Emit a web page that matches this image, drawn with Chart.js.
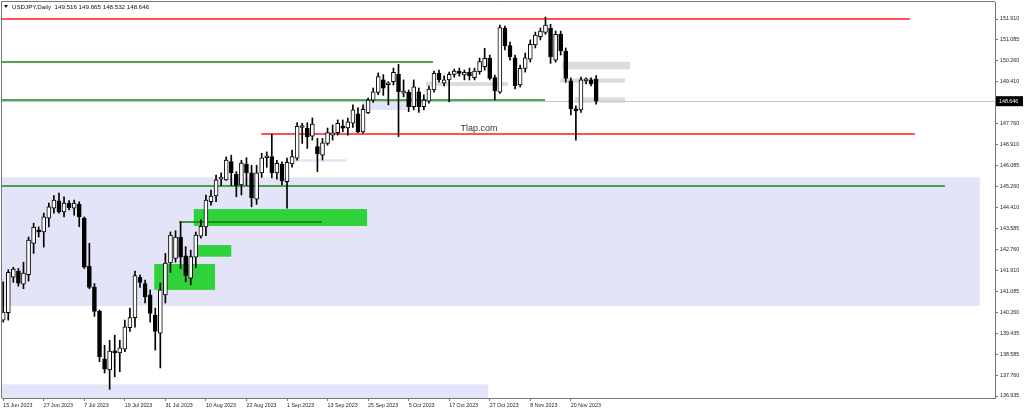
<!DOCTYPE html>
<html>
<head>
<meta charset="utf-8">
<script src="https://cdn.jsdelivr.net/npm/chart.js"></script>
<style>
html, body { margin: 0; padding: 0; background: #fff; }
canvas { display: block; }
</style>
</head>
<body>
<canvas id="chart" width="1024" height="412"></canvas>
<script>
// USDJPY daily, 15 Jun 2023 .. 27 Nov 2023 (bar index 0..117)
const title = 'USDJPY,Daily  149.516 149.665 148.532 148.646';
const lastPrice = 148.646;

const opens = [
  139.95, 140.25, 141.66, 141.90, 141.38, 141.75, 143.00, 143.50, 143.45, 144.00,
  144.40, 144.69, 144.25, 144.60, 144.40, 144.55, 144.00, 142.10, 141.25, 140.30,
  138.40, 137.97, 138.72, 138.65, 138.80, 139.65, 140.05, 141.65, 141.40, 140.95,
  140.15, 139.43, 140.95, 142.22, 142.40, 143.25, 142.50, 141.62, 142.45, 143.28,
  143.65, 144.65, 144.88, 145.55, 145.52, 146.25, 145.75, 145.32, 146.15, 145.80,
  144.75, 145.80, 146.40, 146.45, 145.80, 146.15, 145.45, 146.15, 146.38, 147.60,
  147.57, 147.26, 146.84, 146.50, 146.97, 147.30, 147.40, 147.66, 147.58, 147.77,
  148.14, 147.43, 148.19, 148.69, 148.99, 149.49, 149.30, 149.42, 149.71, 148.96,
  149.00, 148.43, 149.02, 148.43, 148.65, 149.09, 149.75, 149.36, 149.49, 149.71,
  149.82, 149.69, 149.79, 149.58, 149.82, 150.02, 150.35, 149.58, 149.00, 151.54,
  150.85, 150.37, 149.29, 149.95, 150.32, 150.88, 151.21, 151.38, 151.55, 150.28,
  151.30, 150.64, 149.45, 148.34, 148.30, 149.45, 149.49, 149.516
];
const highs = [
  141.47, 141.95, 142.05, 142.00, 142.25, 143.25, 143.80, 143.65, 144.20, 144.60,
  144.90, 145.00, 144.85, 144.70, 144.72, 144.65, 144.05, 143.00, 141.40, 140.35,
  138.95, 139.15, 139.35, 139.15, 139.95, 140.43, 141.90, 141.75, 141.54, 141.15,
  140.43, 141.42, 142.60, 143.45, 143.50, 143.85, 142.87, 142.73, 143.45, 143.93,
  144.92, 145.12, 145.71, 145.80, 146.43, 146.50, 145.85, 146.30, 146.40, 146.10,
  146.10, 146.58, 146.63, 147.33, 146.30, 146.24, 146.39, 146.70, 147.80, 147.77,
  147.79, 147.98, 147.17, 147.17, 147.58, 147.70, 147.90, 147.90, 147.98, 148.50,
  148.38, 148.50, 148.77, 149.17, 149.77, 149.70, 149.42, 149.96, 150.11, 149.49,
  149.09, 149.49, 149.17, 148.90, 149.25, 149.84, 149.88, 149.65, 149.80, 149.92,
  149.96, 149.88, 149.96, 149.96, 150.36, 150.75, 150.48, 149.68, 151.67, 151.63,
  150.99, 150.48, 150.08, 150.56, 151.08, 151.39, 151.55, 151.99, 151.70, 151.43,
  151.43, 150.76, 149.57, 148.46, 149.60, 149.57, 149.57, 149.665
];
const lows = [
  139.87, 139.95, 141.45, 141.30, 141.20, 141.50, 142.60, 143.25, 142.85, 143.65,
  144.20, 144.20, 144.05, 144.33, 144.12, 143.66, 142.00, 141.20, 140.10, 138.30,
  137.85, 137.20, 137.70, 137.90, 138.70, 139.50, 139.67, 141.25, 140.63, 139.87,
  138.76, 138.05, 140.63, 141.85, 142.25, 142.00, 141.47, 141.35, 142.03, 143.20,
  143.30, 144.52, 144.65, 145.30, 145.50, 145.30, 144.85, 144.92, 145.30, 144.45,
  144.55, 145.62, 146.02, 145.60, 145.55, 145.32, 144.40, 146.03, 146.30, 146.97,
  146.77, 147.10, 145.85, 146.31, 146.90, 147.10, 147.30, 147.43, 147.30, 147.60,
  147.40, 147.38, 148.15, 148.60, 148.90, 148.88, 148.50, 149.29, 147.24, 148.82,
  148.23, 148.30, 148.20, 148.30, 148.57, 149.00, 149.40, 149.25, 148.62, 149.60,
  149.64, 149.49, 149.49, 149.49, 149.72, 149.88, 149.49, 148.70, 148.95, 150.68,
  150.28, 149.13, 149.21, 149.80, 150.20, 150.76, 151.08, 151.30, 150.15, 150.20,
  150.48, 149.40, 148.10, 147.10, 148.20, 149.33, 149.25, 148.532
];
const closes = [
  140.27, 141.85, 141.98, 141.42, 141.82, 143.13, 143.65, 143.45, 144.05, 144.45,
  144.72, 144.25, 144.60, 144.42, 144.60, 144.05, 142.05, 141.25, 140.30, 138.50,
  138.00, 138.72, 138.65, 138.85, 139.68, 140.05, 141.72, 141.45, 140.87, 140.22,
  139.50, 141.15, 142.22, 143.33, 143.25, 142.45, 141.73, 142.47, 143.33, 143.68,
  144.72, 144.88, 145.52, 145.60, 146.31, 145.80, 145.30, 146.19, 145.80, 144.80,
  145.80, 146.40, 146.47, 145.80, 146.18, 145.48, 146.22, 146.45, 147.65, 147.65,
  147.23, 147.74, 146.55, 146.99, 147.40, 147.39, 147.77, 147.57, 147.83, 148.30,
  147.43, 148.32, 148.69, 149.02, 149.62, 149.16, 149.35, 149.79, 149.02, 149.05,
  148.43, 149.22, 148.43, 148.69, 149.13, 149.75, 149.49, 149.49, 149.71, 149.84,
  149.75, 149.79, 149.66, 149.84, 150.22, 150.35, 149.55, 149.05, 151.57, 150.85,
  150.41, 149.26, 149.95, 150.37, 150.90, 151.27, 151.43, 151.67, 150.40, 151.30,
  150.64, 149.55, 148.34, 148.26, 149.49, 149.53, 149.33, 148.646
];

// date axis: bar index of each label
const xTickIndex = [0, 8, 16, 24, 32, 40, 48, 56, 64, 72, 80, 88, 96, 104, 112];
const xTickLabels = ['15 Jun 2023', '27 Jun 2023', '7 Jul 2023', '19 Jul 2023', '31 Jul 2023',
  '10 Aug 2023', '22 Aug 2023', '1 Sep 2023', '13 Sep 2023', '25 Sep 2023', '5 Oct 2023',
  '17 Oct 2023', '27 Oct 2023', '8 Nov 2023', '20 Nov 2023'];
const yTicks = [151.910, 151.085, 150.260, 149.410, 147.760, 146.910, 146.085, 145.260,
  144.410, 143.585, 142.760, 141.910, 141.085, 140.260, 139.435, 138.585, 137.760, 136.935];

// drawn objects: [fromBar, toBar, upperPrice, lowerPrice]
const lavenderZones = [[-2, 192.7, 145.62, 140.51], [-2, 95.7, 137.40, 136.0],
  [70.8, 79.7, 148.69, 148.30], [57.2, 67.8, 146.34, 146.24]];
const grayZones = [[83.4, 99.6, 149.41, 149.25], [110.3, 123.7, 150.21, 149.91],
  [109.9, 122.7, 149.55, 149.38], [112.8, 122.7, 148.80, 148.59]];
const greenZones = [[37.6, 71.8, 144.36, 143.69], [38.1, 45.0, 142.93, 142.47],
  [29.8, 41.8, 142.18, 141.15]];
// levels: [fromBar, toBar, price]
const greenLevels = [[-2, 84.8, 150.20], [-2, 106.9, 148.69], [-2, 185.8, 145.28]];
const redLevels = [[-2, 178.9, 151.91], [50.9, 179.9, 147.34]];
const darkGreenLevels = [[34.7, 62.9, 143.85]];
const watermark = {bar: 93.9, price: 147.56, text: 'Tlap.com'};

const axisFont = {family: 'Liberation Sans', size: 5.3};

const objectsPlugin = {
  id: 'objects',
  beforeDatasetsDraw(chart) {
    const {ctx, chartArea: a, scales: {x, y}} = chart;
    ctx.save();
    ctx.beginPath();
    ctx.rect(a.left, a.top, a.right - a.left, a.bottom - a.top);
    ctx.clip();
    const zone = (list, color) => list.forEach(z => {
      const x1 = x.getPixelForValue(z[0]), x2 = x.getPixelForValue(z[1]);
      const y1 = y.getPixelForValue(z[2]), y2 = y.getPixelForValue(z[3]);
      ctx.fillStyle = color;
      ctx.fillRect(x1, y1, x2 - x1, y2 - y1);
    });
    zone(lavenderZones, '#e4e4f8');
    zone(grayZones, '#dcdcdc');
    zone(greenZones, '#2fd23a');

    // bid line
    ctx.strokeStyle = '#c8c8c8';
    ctx.lineWidth = 1;
    ctx.beginPath();
    const by = Math.round(y.getPixelForValue(lastPrice)) + 0.5;
    ctx.moveTo(a.left, by); ctx.lineTo(a.right, by);
    ctx.stroke();

    const level = (list, color, w) => list.forEach(l => {
      const py = y.getPixelForValue(l[2]);
      ctx.strokeStyle = color;
      ctx.lineWidth = w;
      ctx.beginPath();
      ctx.moveTo(x.getPixelForValue(l[0]), py);
      ctx.lineTo(x.getPixelForValue(l[1]), py);
      ctx.stroke();
    });
    level(greenLevels, '#138a13', 1.5);
    level(darkGreenLevels, '#137a13', 1.5);
    level(redLevels, '#ff1a1a', 1.5);

    ctx.fillStyle = '#333';
    ctx.font = '9px "Liberation Sans"';
    ctx.textAlign = 'center';
    ctx.textBaseline = 'middle';
    ctx.fillText(watermark.text, x.getPixelForValue(watermark.bar), y.getPixelForValue(watermark.price));
    ctx.restore();
  },
  afterDraw(chart) {
    const {ctx, chartArea: a, scales: {y}} = chart;
    ctx.save();
    // frame left and top
    ctx.strokeStyle = '#777';
    ctx.lineWidth = 1;
    ctx.beginPath();
    ctx.moveTo(a.left - 0.5, a.bottom); ctx.lineTo(a.left - 0.5, a.top - 0.5); ctx.lineTo(a.right, a.top - 0.5);
    ctx.stroke();

    // header
    ctx.fillStyle = '#111';
    ctx.beginPath();
    ctx.moveTo(4, 5); ctx.lineTo(8, 5); ctx.lineTo(6, 8); ctx.closePath();
    ctx.fill();
    ctx.font = '6.2px "Liberation Sans"';
    ctx.textBaseline = 'middle';
    ctx.textAlign = 'left';
    ctx.fillText(title, 12, 7);

    // current price tag
    const py = y.getPixelForValue(lastPrice);
    ctx.fillStyle = '#000';
    ctx.fillRect(a.right + 1, py - 5, 27, 10);
    ctx.fillStyle = '#fff';
    ctx.font = '5.3px "Liberation Sans"';
    ctx.fillText(lastPrice.toFixed(3), a.right + 4, py + 0.5);
    ctx.restore();
  }
};

const bodies = {
  data: opens.map((o, i) => ({x: i, y: [o, closes[i]]})),
  backgroundColor: c => closes[c.dataIndex] >= opens[c.dataIndex] ? '#ffffff' : '#000000',
  borderColor: '#000',
  borderWidth: 1,
  borderSkipped: false,
  barThickness: 4,
  minBarLength: 2,
  grouped: false,
  order: 1
};
const wicks = {
  data: highs.map((h, i) => ({x: i, y: [lows[i], h]})),
  backgroundColor: '#000',
  borderWidth: 0,
  barThickness: 1,
  grouped: false,
  order: 2
};

new Chart(document.getElementById('chart'), {
  type: 'bar',
  data: {datasets: [bodies, wicks]},
  options: {
    responsive: false,
    animation: false,
    devicePixelRatio: 1,
    layout: {padding: {left: 2, top: 2, right: 0, bottom: 0}},
    plugins: {legend: {display: false}, tooltip: {enabled: false}},
    scales: {
      x: {
        type: 'linear',
        min: -0.24,
        max: 195.7,
        offset: false,
        grid: {drawOnChartArea: false, offset: false, tickLength: 3, color: '#777'},
        border: {color: '#777'},
        ticks: {
          autoSkip: false, maxRotation: 0, align: 'start', padding: 1,
          color: '#222', font: axisFont,
          callback: v => { const k = xTickIndex.indexOf(v); return k >= 0 ? xTickLabels[k] : ''; }
        },
        afterBuildTicks: s => { s.ticks = xTickIndex.map(v => ({value: v})); },
        afterFit: s => { s.height = 14; s.paddingLeft = 0; s.paddingRight = 0; }
      },
      y: {
        position: 'right',
        min: 136.856,
        max: 152.586,
        beginAtZero: false,
        grid: {drawOnChartArea: false, tickLength: 3, color: '#777'},
        border: {color: '#777'},
        ticks: {
          padding: 2, color: '#222', font: axisFont,
          callback: v => v.toFixed(3)
        },
        afterBuildTicks: s => { s.ticks = yTicks.map(v => ({value: v})); },
        afterFit: s => { s.width = 29; s.paddingTop = 0; s.paddingBottom = 0; }
      }
    }
  },
  plugins: [objectsPlugin]
});
</script>
</body>
</html>
